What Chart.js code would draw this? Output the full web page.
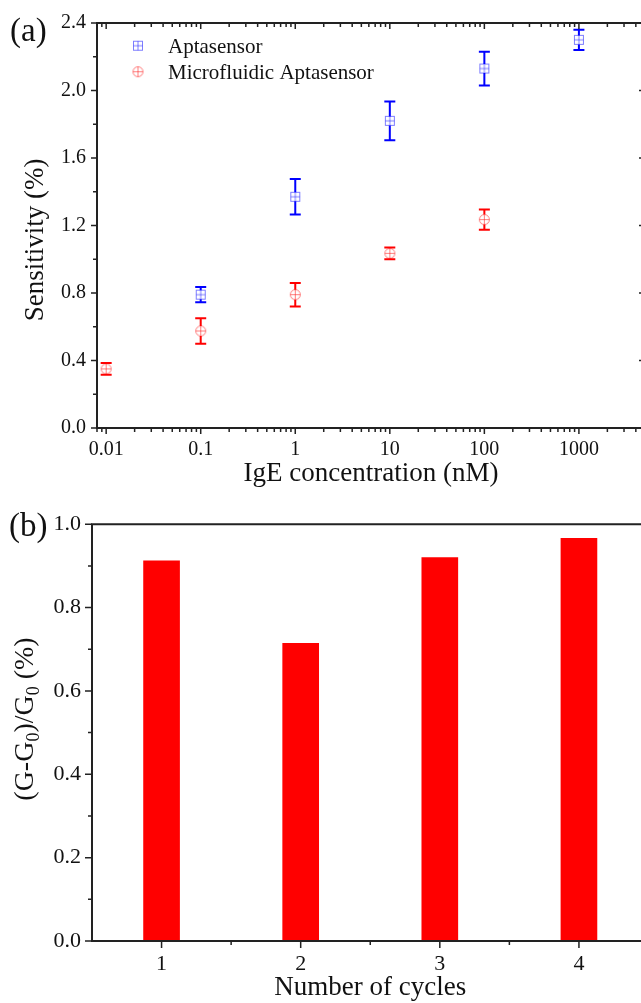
<!DOCTYPE html>
<html><head><meta charset="utf-8">
<script src="https://cdn.jsdelivr.net/npm/chart.js@4.4.1/dist/chart.umd.min.js"></script>
<style>
html,body{margin:0;padding:0;background:#fff;overflow:hidden;width:641px;height:1003px;}
#ca{position:absolute;left:0;top:0;}
#cb{position:absolute;left:0;top:500px;}
</style></head><body>
<canvas id="ca" width="660" height="500"></canvas>
<canvas id="cb" width="660" height="503"></canvas>
<script>
// ---- Data: panel (a) ----
const concTicks = [0.01, 0.1, 1, 10, 100, 1000];
const concLabels = ['0.01', '0.1', '1', '10', '100', '1000'];
const aptaX = [0.1, 1, 10, 100, 1000];
const aptaY = [0.79, 1.37, 1.82, 2.13, 2.30];
const aptaErr = [0.045, 0.105, 0.115, 0.10, 0.06];
const microX = [0.01, 0.1, 1, 10, 100];
const microY = [0.35, 0.575, 0.79, 1.035, 1.235];
const microErr = [0.035, 0.075, 0.07, 0.035, 0.06];
const sensTicks = [0, 0.4, 0.8, 1.2, 1.6, 2.0, 2.4];
const sensLabels = ['0.0', '0.4', '0.8', '1.2', '1.6', '2.0', '2.4'];
// ---- Data: panel (b) ----
const cycles = [1, 2, 3, 4];
const cycleLabels = ['1', '2', '3', '4'];
const ratio = [0.912, 0.714, 0.920, 0.966];
const ratioTicks = [0, 0.2, 0.4, 0.6, 0.8, 1.0];
const ratioLabels = ['0.0', '0.2', '0.4', '0.6', '0.8', '1.0'];

const SERIF = "'Liberation Serif', 'Times New Roman', serif";
const AXIS = '#222';

function markerSquare(color) {
  const c = document.createElement('canvas'); c.width = c.height = 12;
  const g = c.getContext('2d'); g.strokeStyle = color; g.lineWidth = 1;
  g.strokeRect(1.5, 1.5, 9, 9);
  g.beginPath(); g.moveTo(6, 1.5); g.lineTo(6, 10.5); g.moveTo(1.5, 6); g.lineTo(10.5, 6); g.stroke();
  return c;
}
function markerCircle(color) {
  const c = document.createElement('canvas'); c.width = c.height = 13;
  const g = c.getContext('2d'); g.strokeStyle = color; g.lineWidth = 1;
  g.beginPath(); g.arc(6.5, 6.5, 5, 0, Math.PI * 2); g.stroke();
  g.beginPath(); g.moveTo(6.5, 1.5); g.lineTo(6.5, 11.5); g.moveTo(1.5, 6.5); g.lineTo(11.5, 6.5); g.stroke();
  return c;
}
const sqImg = markerSquare('rgba(40,40,255,0.6)');
const ciImg = markerCircle('rgba(255,40,40,0.6)');

const errorBars = {
  id: 'errorBars',
  afterDatasetsDraw(chart) {
    const { ctx, scales: { x, y } } = chart;
    chart.data.datasets.forEach(ds => {
      ctx.save();
      ctx.strokeStyle = ds.errColor; ctx.lineWidth = 2;
      ds.data.forEach((p, j) => {
        const e = ds.errors[j];
        const px = x.getPixelForValue(p.x);
        const yc = y.getPixelForValue(p.y), yt = y.getPixelForValue(p.y + e), yb = y.getPixelForValue(p.y - e);
        const r = ds.markR;
        ctx.beginPath();
        if (yt < yc - r) { ctx.moveTo(px, yt); ctx.lineTo(px, yc - r); }
        if (yb > yc + r) { ctx.moveTo(px, yc + r); ctx.lineTo(px, yb); }
        ctx.moveTo(px - 5.5, yt); ctx.lineTo(px + 5.5, yt);
        ctx.moveTo(px - 5.5, yb); ctx.lineTo(px + 5.5, yb);
        ctx.stroke();
      });
      ctx.restore();
    });
  }
};

const frameA = {
  id: 'frameA',
  afterDraw(chart) {
    const { ctx, chartArea: a, scales: { x, y } } = chart;
    ctx.save();
    ctx.strokeStyle = AXIS; ctx.lineWidth = 2;
    ctx.beginPath();
    ctx.moveTo(a.left, a.top - 1); ctx.lineTo(a.left, a.bottom + 1);
    ctx.moveTo(a.left - 1, a.bottom); ctx.lineTo(a.right + 1, a.bottom);
    ctx.moveTo(a.left - 1, a.top); ctx.lineTo(a.right + 1, a.top);
    ctx.moveTo(a.right, a.top - 1); ctx.lineTo(a.right, a.bottom + 1);
    ctx.stroke();
    ctx.lineWidth = 1.5; ctx.beginPath();
    for (let k = 0; k <= 12; k++) {
      const v = k * 0.2; const py = y.getPixelForValue(v);
      const L = k % 2 === 0 ? 6 : 4;
      ctx.moveTo(a.left - L, py); ctx.lineTo(a.left, py);
      ctx.moveTo(a.right - L, py); ctx.lineTo(a.right, py);
    }
    const lo = Math.floor(Math.log10(x.min)), hi = Math.ceil(Math.log10(x.max));
    for (let e = lo; e <= hi; e++) {
      for (let m = 1; m <= 9; m++) {
        const v = m * Math.pow(10, e);
        if (v < x.min || v > x.max) continue;
        const px = x.getPixelForValue(v); const L = m === 1 ? 6 : 4;
        ctx.moveTo(px, a.bottom); ctx.lineTo(px, a.bottom + L);
        ctx.moveTo(px, a.top); ctx.lineTo(px, a.top + L);
      }
    }
    ctx.stroke();
    // panel label, y title, legend
    ctx.fillStyle = '#111';
    ctx.font = '33px ' + SERIF; ctx.textAlign = 'left'; ctx.textBaseline = 'alphabetic';
    ctx.fillText('(a)', 10, 41);
    ctx.save();
    ctx.translate(43, 240); ctx.rotate(-Math.PI / 2);
    ctx.font = '27px ' + SERIF; ctx.textAlign = 'center';
    ctx.fillText('Sensitivity (%)', 0, 0);
    ctx.restore();
    ctx.font = '21px ' + SERIF; ctx.textAlign = 'left';
    const legY = [45.7, 71.7];
    chart.data.datasets.forEach((ds, i) => {
      const img = ds.pointStyle;
      ctx.drawImage(img, 138 - img.width / 2, legY[i] - img.height / 2);
      ctx.fillText(ds.label, 168, legY[i] + 7.3);
    });
    ctx.restore();
  }
};

new Chart(document.getElementById('ca'), {
  type: 'scatter',
  data: {
    datasets: [
      { label: 'Aptasensor', data: aptaX.map((v, i) => ({ x: v, y: aptaY[i] })), errors: aptaErr,
        errColor: '#0000ff', markR: 4.5, pointStyle: sqImg, pointRadius: 5 },
      { label: 'Microfluidic Aptasensor', data: microX.map((v, i) => ({ x: v, y: microY[i] })), errors: microErr,
        errColor: '#ff0000', markR: 5, pointStyle: ciImg, pointRadius: 5 }
    ]
  },
  options: {
    responsive: false, animation: false, events: [],
    layout: { padding: { top: 18, right: 15, left: 0, bottom: 0 } },
    plugins: { legend: { display: false }, tooltip: { enabled: false } },
    scales: {
      x: {
        type: 'logarithmic', min: 0.008, max: 5000, bounds: 'data',
        afterBuildTicks: s => { s.ticks = concTicks.map(v => ({ value: v })); },
        afterFit: s => { s.height = 72; },
        ticks: { autoSkip: false, maxRotation: 0, padding: 10, color: '#111',
          font: { family: SERIF, size: 20 }, callback: (v, i) => concLabels[i] },
        grid: { display: false, drawTicks: false }, border: { display: false },
        title: { display: true, text: 'IgE concentration (nM)', color: '#111',
          font: { family: SERIF, size: 27 }, padding: { top: 0, bottom: 10 } }
      },
      y: {
        min: 0, max: 2.4,
        afterBuildTicks: s => { s.ticks = sensTicks.map(v => ({ value: v })); },
        afterFit: s => { s.width = 97; },
        ticks: { padding: 11, color: '#111', font: { family: SERIF, size: 20 },
          callback: (v, i) => sensLabels[i] },
        grid: { display: false, drawTicks: false }, border: { display: false }
      }
    }
  },
  plugins: [errorBars, frameA]
});

const frameB = {
  id: 'frameB',
  afterDraw(chart) {
    const { ctx, chartArea: a, scales: { x, y } } = chart;
    ctx.save();
    ctx.strokeStyle = AXIS; ctx.lineWidth = 2;
    ctx.beginPath();
    ctx.moveTo(a.left, a.top - 1); ctx.lineTo(a.left, a.bottom + 1);
    ctx.moveTo(a.left - 1, a.bottom); ctx.lineTo(a.right + 1, a.bottom);
    ctx.moveTo(a.left - 1, a.top); ctx.lineTo(a.right + 1, a.top);
    ctx.moveTo(a.right, a.top - 1); ctx.lineTo(a.right, a.bottom + 1);
    ctx.stroke();
    ctx.lineWidth = 1.5; ctx.beginPath();
    for (let k = 0; k <= 10; k++) {
      const py = y.getPixelForValue(k * 0.1); const L = k % 2 === 0 ? 7 : 4;
      ctx.moveTo(a.left - L, py); ctx.lineTo(a.left, py);
    }
    for (let k = 1; k <= 8; k++) {
      const v = x.min + k * 0.5; if (v > x.max) continue;
      const px = x.getPixelForValue(v); const L = k % 2 === 1 ? 7 : 4;
      ctx.moveTo(px, a.bottom); ctx.lineTo(px, a.bottom + L);
    }
    ctx.stroke();
    ctx.fillStyle = '#111';
    ctx.font = '33px ' + SERIF; ctx.textAlign = 'left'; ctx.textBaseline = 'alphabetic';
    ctx.fillText('(b)', 9, 36);
    // y title with subscripts
    const big = 28, small = 18;
    const parts = [['(G-G', big, 0], ['0', small, 6], [')/G', big, 0], ['0', small, 6], [' (%)', big, 0]];
    let total = 0;
    parts.forEach(p => { ctx.font = p[1] + 'px ' + SERIF; total += ctx.measureText(p[0]).width; });
    ctx.save();
    ctx.translate(33, 219); ctx.rotate(-Math.PI / 2);
    let cx = -total / 2;
    parts.forEach(p => { ctx.font = p[1] + 'px ' + SERIF; ctx.fillText(p[0], cx, p[2]); cx += ctx.measureText(p[0]).width; });
    ctx.restore();
    ctx.restore();
  }
};

new Chart(document.getElementById('cb'), {
  type: 'bar',
  data: {
    datasets: [{ label: '(G-G0)/G0', data: cycles.map((c, i) => ({ x: c, y: ratio[i] })),
      backgroundColor: '#ff0000', borderWidth: 0, barThickness: 36 }]
  },
  options: {
    responsive: false, animation: false, events: [],
    layout: { padding: { top: 23, right: 11.5, left: 0, bottom: 0 } },
    plugins: { legend: { display: false }, tooltip: { enabled: false } },
    scales: {
      x: {
        type: 'linear', min: 0.5, max: 4.5, offset: false,
        afterBuildTicks: s => { s.ticks = cycles.map(v => ({ value: v })); },
        afterFit: s => { s.height = 62; },
        ticks: { autoSkip: false, maxRotation: 0, padding: 10, color: '#111',
          font: { family: SERIF, size: 22 }, callback: (v, i) => cycleLabels[i] },
        grid: { display: false, drawTicks: false }, border: { display: false },
        title: { display: true, text: 'Number of cycles', color: '#111',
          font: { family: SERIF, size: 27, lineHeight: 1.1 }, padding: { top: 0, bottom: 0 } }
      },
      y: {
        min: 0, max: 1.0,
        afterBuildTicks: s => { s.ticks = ratioTicks.map(v => ({ value: v })); },
        afterFit: s => { s.width = 92; },
        ticks: { padding: 11, color: '#111', font: { family: SERIF, size: 22 },
          callback: (v, i) => ratioLabels[i] },
        grid: { display: false, drawTicks: false }, border: { display: false }
      }
    }
  },
  plugins: [frameB]
});
</script>
</body></html>
